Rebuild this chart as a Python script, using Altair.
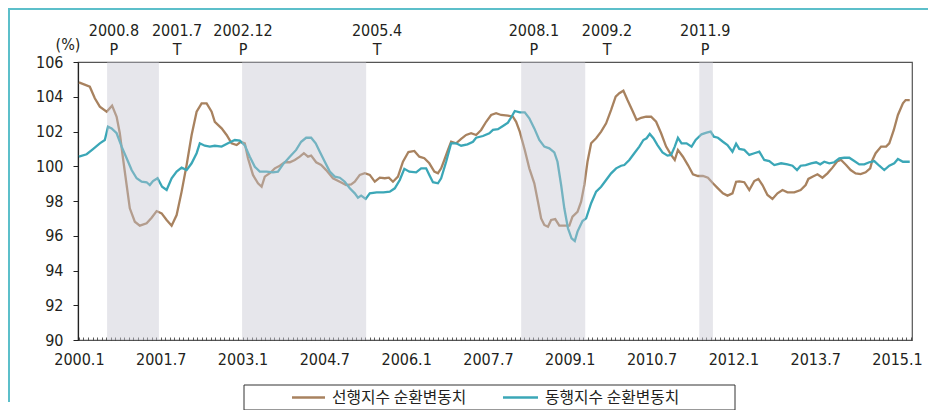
import altair as alt
import pandas as pd

# ---------------- data ----------------
# month offsets from 2000.1 (0 = 2000.1, 12 = 2001.1, ...)
lead_t = [0.0, 2.4, 3.5, 4.6, 6.1, 7.3, 8.3, 9.0, 9.7, 10.5, 11.2, 12.3, 13.4, 14.9, 16.0, 17.1,
          18.2, 19.3, 20.4, 21.5, 22.6, 23.7, 24.8, 25.9, 27.0, 28.1, 29.2, 29.9, 31.4, 32.5,
          33.6, 34.7, 35.6, 36.5, 37.2, 38.3, 39.4, 40.2, 40.9, 42.0, 43.1, 44.2, 45.3, 46.4,
          47.5, 48.6, 49.5, 50.4, 51.1, 52.2, 53.3, 54.4, 55.9, 57.4, 58.8, 59.9, 60.7, 61.8,
          62.9, 64.0, 65.1, 66.2, 67.3, 68.2, 69.1, 70.2, 71.3, 72.5, 73.8, 74.9, 76.0, 77.1,
          78.2, 79.0, 79.7, 80.4, 81.2, 81.9, 83.0, 84.1, 85.2, 86.3, 87.4, 88.5, 89.6, 90.7,
          91.8, 92.9, 94.4, 95.5, 96.2, 97.0, 98.1, 99.1, 100.2, 101.0, 101.7, 102.4, 103.2,
          103.9, 104.8, 105.7, 106.8, 107.9, 108.6, 109.7, 110.5, 111.2, 111.9, 112.7, 113.8,
          114.9, 116.0, 117.1, 118.1, 118.9, 119.8, 120.7, 121.9, 122.7, 123.7, 124.8, 125.9,
          127.0, 128.1, 129.2, 130.3, 131.1, 131.8, 132.9, 134.0, 135.1, 136.2, 137.3, 138.4,
          139.5, 140.6, 141.7, 142.7, 143.8, 144.6, 145.3, 146.4, 147.5, 148.6, 149.5, 150.4,
          151.5, 152.6, 153.7, 154.8, 155.9, 157.4, 158.8, 159.9, 160.5, 161.4, 162.5, 163.6,
          164.7, 165.8, 166.9, 167.7, 168.8, 169.8, 170.9, 172.0, 173.1, 174.1, 174.6, 175.3,
          176.5, 177.6, 178.3, 179.3, 180.2, 181.3, 181.9, 182.8]
lead_v = [104.83, 104.58, 103.91, 103.43, 103.14, 103.49, 102.85, 101.90, 100.46, 98.92, 97.58,
          96.81, 96.58, 96.72, 97.04, 97.42, 97.29, 96.91, 96.58, 97.19, 98.54, 100.07, 101.80,
          103.14, 103.62, 103.62, 103.14, 102.56, 102.18, 101.80, 101.32, 101.22, 101.41, 101.32,
          100.46, 99.50, 99.02, 98.82, 99.40, 99.60, 99.88, 100.03, 100.23, 100.23, 100.36,
          100.55, 100.75, 100.55, 100.61, 100.23, 100.07, 99.78, 99.31, 99.11, 98.92, 98.96,
          99.11, 99.50, 99.60, 99.50, 99.11, 99.34, 99.31, 99.34, 99.11, 99.40, 100.26, 100.82,
          100.88, 100.55, 100.46, 100.17, 99.69, 99.60, 99.88, 100.36, 100.94, 101.41, 101.32,
          101.57, 101.80, 101.90, 101.80, 102.09, 102.56, 102.95, 103.05, 102.95, 102.91, 102.85,
          102.56, 101.99, 100.94, 99.88, 99.02, 97.96, 97.00, 96.62, 96.52, 96.91, 96.96, 96.58,
          96.58, 96.58, 97.10, 97.38, 97.96, 98.92, 100.26, 101.32, 101.61, 101.99, 102.47,
          103.24, 104.00, 104.20, 104.35, 103.81, 103.14, 102.66, 102.79, 102.85, 102.85, 102.56,
          101.90, 101.13, 100.65, 100.36, 100.94, 100.55, 100.07, 99.54, 99.44, 99.44, 99.34,
          99.02, 98.73, 98.44, 98.31, 98.44, 99.11, 99.13, 99.08, 98.63, 99.15, 99.27, 98.92,
          98.35, 98.12, 98.44, 98.63, 98.50, 98.50, 98.63, 98.92, 99.27, 99.40, 99.54, 99.34,
          99.59, 99.92, 100.30, 100.36, 100.07, 99.78, 99.59, 99.55, 99.65, 99.88, 100.36,
          100.75, 101.13, 101.13, 101.32, 102.09, 102.95, 103.62, 103.81, 103.81]

coin_t = [0.0, 1.7, 3.1, 4.6, 5.7, 6.4, 7.2, 8.3, 9.4, 10.5, 11.6, 12.7, 13.8, 14.9, 15.6, 16.3,
          17.3, 18.3, 19.3, 20.4, 21.5, 22.6, 23.7, 24.8, 25.9, 26.6, 27.7, 28.8, 29.9, 31.4,
          32.8, 34.3, 35.4, 36.5, 37.6, 38.7, 39.8, 41.3, 42.7, 43.8, 44.9, 46.4, 47.8, 48.9,
          50.0, 51.1, 52.1, 53.0, 54.1, 55.2, 56.3, 57.4, 58.5, 59.6, 60.7, 61.4, 62.1, 63.1,
          64.0, 65.5, 67.0, 68.4, 69.5, 70.6, 71.6, 72.7, 74.2, 75.3, 76.4, 77.1, 77.9, 79.0,
          79.7, 80.8, 81.9, 83.0, 84.1, 85.5, 86.7, 87.4, 88.9, 90.3, 91.1, 92.2, 93.3, 94.4,
          95.2, 95.9, 97.0, 98.1, 99.1, 100.2, 101.3, 102.4, 103.5, 104.6, 105.3, 106.1, 106.8,
          107.6, 108.4, 109.1, 109.7, 110.8, 111.6, 112.7, 113.8, 114.9, 116.0, 117.1, 118.2,
          119.3, 120.0, 121.1, 122.2, 123.3, 124.2, 124.9, 125.6, 126.4, 127.3, 128.4, 129.5,
          130.3, 131.1, 131.8, 132.6, 133.7, 134.8, 135.7, 137.0, 138.1, 139.0, 139.7, 140.6,
          141.7, 142.7, 143.8, 144.6, 145.3, 146.4, 147.5, 148.6, 149.7, 150.8, 151.9, 153.0,
          154.5, 155.9, 157.0, 158.0, 158.8, 159.9, 161.1, 162.2, 163.1, 164.0, 165.1, 166.2,
          167.3, 168.4, 169.5, 170.6, 171.7, 172.8, 173.9, 175.0, 176.1, 177.2, 178.3, 179.4,
          180.2, 181.3, 182.4, 182.8]
coin_v = [100.55, 100.69, 100.99, 101.32, 101.51, 102.28, 102.18, 101.90, 101.13, 100.46, 99.78,
          99.31, 99.11, 99.08, 98.92, 99.15, 99.31, 98.82, 98.63, 99.31, 99.69, 99.92, 99.78,
          100.17, 100.75, 101.32, 101.18, 101.13, 101.18, 101.13, 101.32, 101.51, 101.48, 101.20,
          100.55, 99.97, 99.69, 99.69, 99.65, 99.69, 100.11, 100.55, 100.94, 101.41, 101.64,
          101.64, 101.32, 100.84, 100.26, 99.69, 99.40, 99.34, 99.11, 98.73, 98.44, 98.19, 98.31,
          98.12, 98.44, 98.50, 98.50, 98.54, 98.73, 99.21, 99.85, 99.69, 99.65, 99.88, 99.88,
          99.50, 99.08, 99.02, 99.31, 100.26, 101.32, 101.32, 101.18, 101.26, 101.41, 101.64,
          101.74, 101.90, 102.09, 102.13, 102.32, 102.51, 102.85, 103.18, 103.10, 103.10, 102.76,
          102.18, 101.51, 101.13, 101.03, 100.80, 100.26, 98.92, 97.58, 96.43, 95.85, 95.70,
          96.24, 96.85, 97.00, 97.87, 98.54, 98.82, 99.21, 99.59, 99.88, 100.03, 100.07, 100.36,
          100.75, 101.13, 101.51, 101.61, 101.86, 101.61, 101.22, 100.80, 100.61, 100.65, 101.13,
          101.64, 101.32, 101.32, 101.13, 101.51, 101.84, 101.93, 101.99, 101.70, 101.64, 101.41,
          101.22, 100.84, 101.30, 101.00, 100.94, 100.65, 100.75, 100.84, 100.36, 100.30, 100.07,
          100.17, 100.11, 100.03, 99.78, 100.03, 100.07, 100.17, 100.23, 100.11, 100.26, 100.17,
          100.23, 100.46, 100.49, 100.49, 100.30, 100.11, 100.11, 100.23, 100.30, 100.03, 99.78,
          100.03, 100.17, 100.42, 100.26, 100.26, 100.26]

series_names = ["선행지수 순환변동치", "동행지수 순환변동치"]
series_colors = ["#a8825f", "#3ba7b7"]

# shaded phases (month offsets, as drawn)
band_start = [6.2, 35.9, 97.3, 136.5]
band_end = [17.6, 63.2, 111.4, 139.5]

# turning-point annotations above the plot
turn_pos = [7.7, 21.6, 36.1, 65.6, 100.1, 116.2, 137.8]
turn_date = ["2000.8", "2001.7", "2002.12", "2005.4", "2008.1", "2009.2", "2011.9"]
turn_type = ["P", "T", "P", "T", "P", "T", "P"]

y_ticks = [90, 92, 94, 96, 98, 100, 102, 104, 106]
x_tick_months = [0, 18, 36, 54, 72, 90, 108, 126, 144, 162, 180]
x_tick_labels = ["2000.1", "2001.7", "2003.1", "2004.7", "2006.1", "2007.7",
                 "2009.1", "2010.7", "2012.1", "2013.7", "2015.1"]
minor_months = list(range(0, 184))

# ---------------- build ----------------
FONT = "Liberation Sans Narrow, Arial Narrow, DejaVu Sans Condensed, sans-serif"
KFONT = "Noto Sans CJK KR"
TXT = "#231f20"
W, H = 834, 278

df = pd.concat([
    pd.DataFrame({"t": lead_t, "v": lead_v, "series": series_names[0]}),
    pd.DataFrame({"t": coin_t, "v": coin_v, "series": series_names[1]}),
])
bands = pd.DataFrame({"t": band_start, "t2": band_end})
turns = pd.DataFrame({"t": turn_pos, "date": turn_date, "kind": turn_type})

label_expr = ""
for m, lab in zip(x_tick_months, x_tick_labels):
    label_expr += f"datum.value == {m} ? '{lab}' : "
label_expr += "''"

x_scale = alt.Scale(domain=[-0.2, 183.3], nice=False, zero=False)
x_axis = alt.Axis(values=minor_months, labelExpr=label_expr, tickSize=3, offset=-3,
                  domain=False, grid=False, title=None, labelFont=FONT, labelFontSize=16,
                  labelColor=TXT, tickColor="#333", tickWidth=0.8, labelPadding=11,
                  labelOverlap=False, labelFlush=False, labelBound=False)
y_scale = alt.Scale(domain=[90, 106], nice=False, zero=False)
y_axis = alt.Axis(values=y_ticks, tickSize=5, grid=False, title=None, labelFont=FONT,
                  labelFontSize=16, labelColor=TXT, domainColor="#222", tickColor="#222",
                  labelPadding=10, domainWidth=1.2)

X = alt.X("t:Q", scale=x_scale, axis=x_axis)

lines = alt.Chart(df).mark_line(strokeWidth=2.3).encode(
    x=X,
    y=alt.Y("v:Q", scale=y_scale, axis=y_axis),
    color=alt.Color("series:N", scale=alt.Scale(domain=series_names, range=series_colors),
                    legend=None),
)

shade = alt.Chart(bands).mark_rect(color="#c4c4cf", opacity=0.42).encode(
    x=X, x2="t2:Q", y=alt.value(0), y2=alt.value(H)
)

top1 = alt.Chart(turns).mark_text(font=FONT, fontSize=16, color=TXT, baseline="middle").encode(
    x=X, y=alt.value(-31), text="date:N"
)
top2 = alt.Chart(turns).mark_text(font=FONT, fontSize=16, color=TXT, baseline="middle").encode(
    x=X, y=alt.value(-12), text="kind:N"
)

pct = alt.Chart(pd.DataFrame({"s": ["(%)"]})).mark_text(
    font=FONT, fontSize=16, color=TXT, baseline="middle").encode(
    x=alt.value(-10), y=alt.value(-17), text="s:N")

frame_top = alt.Chart(pd.DataFrame({"s": [0]})).mark_rule(color="#5cbfca", strokeWidth=2).encode(
    x=alt.value(-70), x2=alt.value(850), y=alt.value(-53))
frame_left = alt.Chart(pd.DataFrame({"s": [0]})).mark_rule(color="#5cbfca", strokeWidth=2).encode(
    x=alt.value(-69), y=alt.value(-53), y2=alt.value(340))

leg_box = alt.Chart(pd.DataFrame({"s": [0]})).mark_rect(
    fill="white", stroke="#333", strokeWidth=1).encode(
    x=alt.value(166), x2=alt.value(657), y=alt.value(323), y2=alt.value(348))

legend_layers = []
for name, col, x0, x1 in zip(series_names, series_colors, [214, 425], [247, 460]):
    d = pd.DataFrame({"name": [name]})
    legend_layers.append(alt.Chart(d).mark_rule(color=col, strokeWidth=2.3).encode(
        x=alt.value(x0), x2=alt.value(x1), y=alt.value(335.5)))
    legend_layers.append(alt.Chart(d).mark_text(
        font=KFONT, fontSize=15.8, color=TXT, align="left", baseline="middle").encode(
        x=alt.value(x1 + 7), y=alt.value(335.5), text="name:N"))

chart = alt.layer(
    lines, shade, top1, top2, pct, frame_top, frame_left, leg_box, *legend_layers
).properties(
    width=W, height=H,
    padding={"left": 70, "top": 54, "right": 17, "bottom": 70},
    autosize=alt.AutoSizeParams(type="none"),
    background="white",
).configure_view(stroke="#555", strokeWidth=1.2)

chart.save("out.html", embed_options={"renderer": "svg", "actions": False})
